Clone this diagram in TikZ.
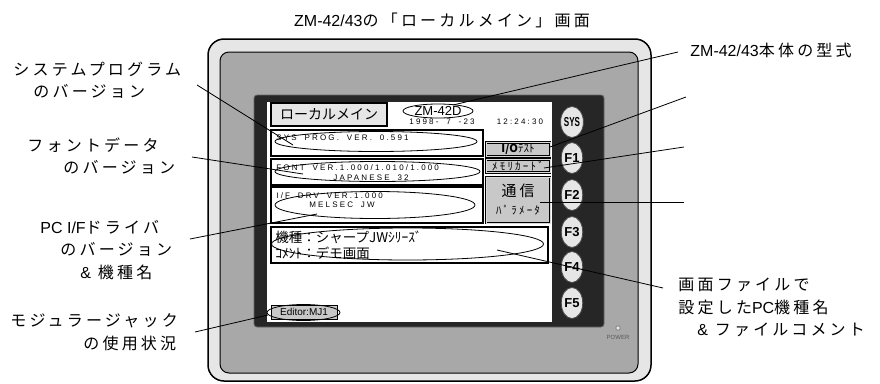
\documentclass[tikz,border=0pt]{standalone}
\usepackage{fontspec}
\usepackage{graphicx}
\setmainfont{Liberation Sans}
\newfontfamily\jpfont{Noto Sans CJK JP}
\newfontfamily\jpwide[LetterSpace=20]{Noto Sans CJK JP}
\newfontfamily\lcdfont[LetterSpace=27, WordSpace=1.8]{Liberation Sans}
\newcommand\lat[1]{{\setmainfont{Liberation Sans}\rmfamily #1}}
\usetikzlibrary{shapes.geometric}
\definecolor{cframe}{HTML}{E6E6E6}
\definecolor{cpanel}{HTML}{A8A8A8}
\definecolor{cbezel}{HTML}{262626}
\definecolor{ckey}{HTML}{E6E6E6}
\definecolor{cbtn}{HTML}{C8C8C8}
\tikzset{
  every picture/.style={x=1pt, y=-1pt, line width=0.8pt},
  callout/.style={font=\jpwide\fontsize{16}{22.5}\selectfont, align=left, anchor=west, inner sep=0pt},
  lead/.style={draw=black, line width=0.8pt},
  ring/.style={draw, ellipse, inner sep=0pt, line width=0.8pt},
  lcd/.style={font=\lcdfont\fontsize{8}{10}\selectfont, inner sep=0pt},
  scrbox/.style={draw, fill=white, line width=1.2pt, inner sep=0pt},
  menubtn/.style={draw, fill=cbtn, double=cbtn!70, double distance=1pt, line width=0.9pt, inner sep=0pt},
  softkey/.style={draw=black!70, fill=ckey, ellipse, minimum width=17pt, minimum height=31pt, inner sep=0pt, font=\bfseries\fontsize{13}{13}\selectfont},
}

\begin{document}
\begin{tikzpicture}
  \useasboundingbox (0,0) rectangle (880,383);
  % device
  \draw[fill=cframe, line width=1.5pt, rounded corners=16pt] (208,39) rectangle (651,381);
  \draw[fill=cpanel, line width=1pt, rounded corners=9pt] (220,52) rectangle (638,373);
  \draw[fill=cbezel, draw=black!60, rounded corners=3pt] (254,95) rectangle (604,327);
  \draw[fill=white, draw=none] (267,102) rectangle (552,322);
  \node[circle, draw=black!50, fill=cframe, minimum size=4.5pt, inner sep=0pt] (led) at (618,328) {};
  \node[font=\fontsize{6}{6}\selectfont, text=black!65, inner sep=0pt] (pwr) at (618,337) {POWER};
  \foreach \n/\k/\y in {sys/{\scalebox{.62}[1]{SYS}}/122, f1/F1/158, f2/F2/195, f3/F3/232, f4/F4/267, f5/F5/303}
    \node[softkey] (key-\n) at (572,\y) {\k};

  % screen
  \node[draw, fill=ckey, line width=1.3pt, minimum width=116pt, minimum height=23pt, inner sep=0pt, font=\jpfont\fontsize{14}{14}\selectfont] (lmain) at (329,114.5) {ローカルメイン};
  \node[font=\fontsize{13}{13}\selectfont, inner sep=0pt] (model) at (438,111) {ZM-42D};
  \node[lcd] (date) at (442,122) {1998- 7 -23};
  \node[lcd] (time) at (520,122) {12:24:30};
  \node[scrbox, minimum width=212pt, minimum height=26pt] (sysbox) at (377,143) {};
  \node[lcd, anchor=west] (systxt) at (276,138) {SYS PROG. VER. 0.591};
  \node[scrbox, minimum width=212pt, minimum height=26pt] (fontbox) at (377,172) {};
  \node[lcd, anchor=west] (fonttxt) at (276,167.5) {FONT VER.1.000/1.010/1.000};
  \node[lcd] (jptxt) at (371,178) {JAPANESE 32};
  \node[scrbox, minimum width=212pt, minimum height=36pt] (ifbox) at (377,205) {};
  \node[lcd, anchor=west] (iftxt) at (276,195.5) {I/F DRV VER.1.000};
  \node[lcd] (plctxt) at (342,205) {MELSEC JW};
  \node[scrbox, minimum width=277pt, minimum height=36pt] (pcbox) at (409.5,245) {};
  \node[font=\jpfont\fontsize{13.5}{16}\selectfont, align=left, anchor=west, inner sep=0pt] (pctxt) at (275,245) {機種：シャープJWｼﾘｰｽﾞ\\ｺﾒﾝﾄ：デモ画面};
  \node[menubtn, minimum width=64pt, minimum height=14pt, font=\jpfont\fontsize{11}{11}\selectfont] (iobtn) at (518,149.5) {\textbf{I/O}ﾃｽﾄ};
  \node[menubtn, minimum width=64pt, minimum height=13pt, font=\jpwide\fontsize{11}{11}\selectfont] (membtn) at (518,166) {ﾒﾓﾘｶｰﾄﾞ};
  \node[menubtn, minimum width=64pt, minimum height=46pt, font=\jpwide\fontsize{11}{18}\selectfont, align=center] (combtn) at (518,200) {{\fontsize{15}{18}\selectfont 通信}\\ﾊﾟﾗﾒｰﾀ};
  \node[draw, fill=cbtn, line width=1pt, minimum width=66pt, minimum height=14pt, inner sep=0pt, font=\fontsize{10}{10}\selectfont] (edbox) at (304,312) {Editor:MJ1};

  % marks
  \node[ring, minimum width=70pt, minimum height=14pt] (r-zm) at (438,111) {};
  \node[ring, minimum width=202pt, minimum height=20pt] (r-sys) at (376,141.5) {};
  \node[ring, minimum width=205pt, minimum height=20pt] (r-font) at (377.5,171.5) {};
  \node[ring, minimum width=200pt, minimum height=27pt] (r-if) at (375,205) {};
  \node[ring, minimum width=272pt, minimum height=32pt] (r-pc) at (407.5,244) {};
  \node[ring, minimum width=73pt, minimum height=16pt] (r-ed) at (303.5,312.5) {};

  % leaders
  \coordinate (sys-from) at (197,85);    \coordinate (sys-to) at (293,145);
  \coordinate (font-from) at (192,157);  \coordinate (font-to) at (303,174);
  \coordinate (if-from) at (190,239);    \coordinate (if-to) at (317,214);
  \coordinate (ed-from) at (195,332);    \coordinate (ed-to) at (268,315);
  \coordinate (zm-from) at (678,52);     \coordinate (zm-to) at (453,105);
  \coordinate (io-from) at (686,97);     \coordinate (io-to) at (550,147);
  \coordinate (mem-from) at (684,147);   \coordinate (mem-to) at (544,168);
  \coordinate (com-from) at (684,202);   \coordinate (com-to) at (540,202);
  \coordinate (pc-from) at (663,288);    \coordinate (pc-to) at (497,250);
  \foreach \a in {sys, font, if, ed, zm, io, mem, com, pc}
    \draw[lead] (\a-from) -- (\a-to);

  % labels
  \node[font=\jpwide\fontsize{16}{18}\selectfont, inner sep=0pt] (title) at (442,20) {\lat{ZM-42/43}の「ローカルメイン」画面};
  \node[callout] (l-sys) at (13,80) {システムプログラム\\\hspace*{20pt}のバージョン};
  \node[callout] (l-font) at (27,156) {フォントデータ\\\hspace*{36pt}のバージョン};
  \node[callout] (l-if) at (40,250) {\lat{PC I/F}ドライバ\\\hspace*{20pt}のバージョン\\\hspace*{40pt}\lat{\&} 機種名};
  \node[callout] (l-ed) at (10,332) {モジュラージャック\\\hspace*{73pt}の使用状況};
  \node[callout] (l-zm) at (690,50) {\lat{ZM-42/43}本体の型式};
  \node[callout] (l-pc) at (678,307.5) {画面ファイルで\\設定した\lat{PC}機種名\\\hspace*{19pt}\lat{\&} ファイルコメント};
\end{tikzpicture}
\end{document}
